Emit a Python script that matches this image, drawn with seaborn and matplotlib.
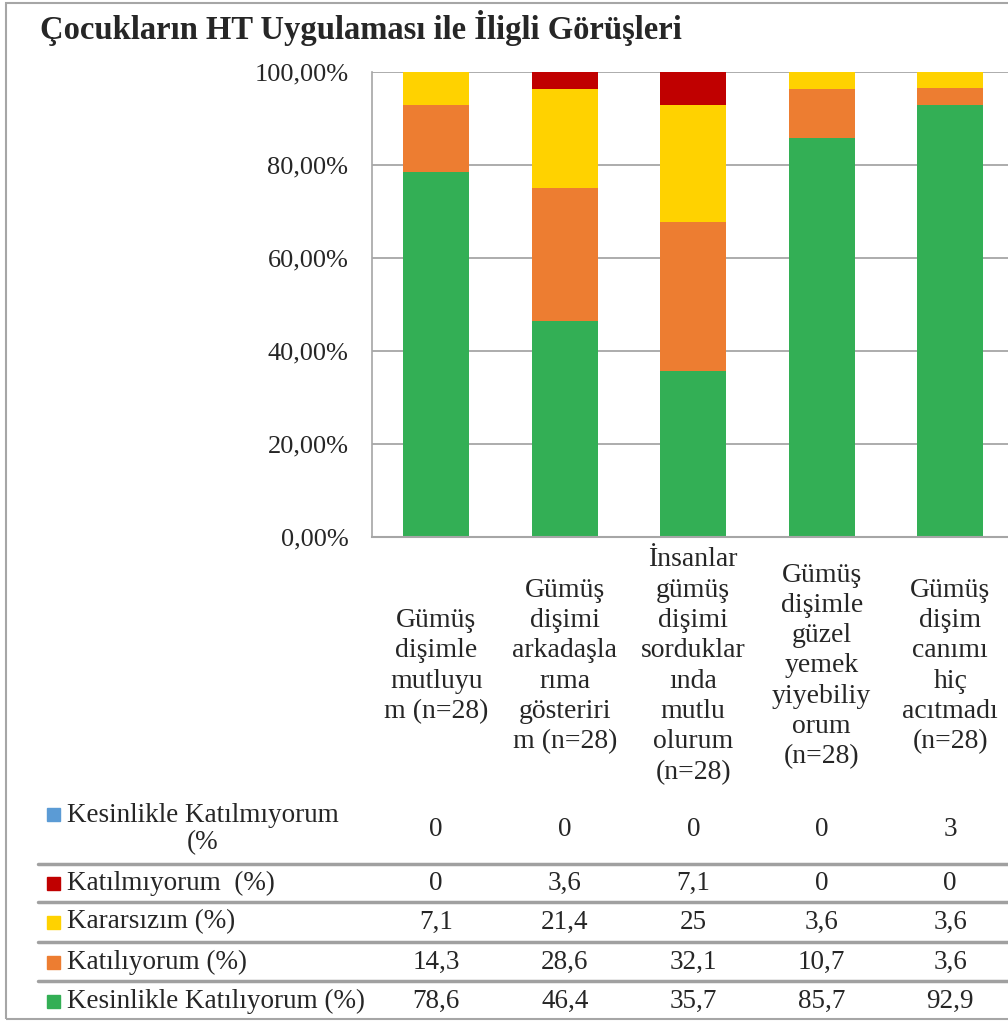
import numpy as np
import pandas as pd
import matplotlib
matplotlib.use("Agg")
import matplotlib.pyplot as plt
import matplotlib.transforms as mtransforms
from matplotlib.patches import Rectangle
from matplotlib.lines import Line2D
import seaborn as sns

# DATA
kategoriler = [
    "Gümüş\ndişimle\nmutluyu\nm (n=28)",
    "Gümüş\ndişimi\narkadaşla\nrıma\ngösteriri\nm (n=28)",
    "İnsanlar\ngümüş\ndişimi\nsorduklar\nında\nmutlu\nolurum\n(n=28)",
    "Gümüş\ndişimle\ngüzel\nyemek\nyiyebiliy\norum\n(n=28)",
    "Gümüş\ndişim\ncanımı\nhiç\nacıtmadı\n(n=28)",
]
seri_adlari = [
    "Kesinlikle Katılmıyorum\n(%",
    "Katılmıyorum  (%)",
    "Kararsızım (%)",
    "Katılıyorum (%)",
    "Kesinlikle Katılıyorum (%)",
]
kesinlikle_katilmiyorum = [0, 0, 0, 0, 3]
katilmiyorum = [0, 3.6, 7.1, 0, 0]
kararsizim = [7.1, 21.4, 25, 3.6, 3.6]
katiliyorum = [14.3, 28.6, 32.1, 10.7, 3.6]
kesinlikle_katiliyorum = [78.6, 46.4, 35.7, 85.7, 92.9]
tablo_metin = [
    ["0", "0", "0", "0", "3"],
    ["0", "3,6", "7,1", "0", "0"],
    ["7,1", "21,4", "25", "3,6", "3,6"],
    ["14,3", "28,6", "32,1", "10,7", "3,6"],
    ["78,6", "46,4", "35,7", "85,7", "92,9"],
]
renkler = ["#5B9BD5", "#C00000", "#FFD200", "#ED7D31", "#33AF55"]

W, H = 1008, 1022
fig = plt.figure(figsize=(W / 100, H / 100), dpi=100)
sns.set_style("white")
plt.rcParams["font.family"] = ["Liberation Serif", "DejaVu Serif"]

ax = fig.add_axes([372 / W, 485 / H, 642.5 / W, 465 / H])

# stacked bars: draw cumulative heights, tallest first (green at bottom)
seriler = [kesinlikle_katiliyorum, katiliyorum, kararsizim, katilmiyorum, kesinlikle_katilmiyorum]
seri_renk = renkler[::-1]
kumulatif = np.cumsum(np.array(seriler), axis=0)
df = pd.DataFrame({"x": list(range(5))})
for i in range(len(seriler) - 1, -1, -1):
    df["y"] = kumulatif[i]
    sns.barplot(data=df, x="x", y="y", color=seri_renk[i], width=0.515,
                saturation=1, ax=ax, zorder=2, native_scale=True, linewidth=0)

ax.set_xlim(-0.5, 4.5)
ax.set_ylim(0, 100)
ax.set_yticks([0, 20, 40, 60, 80, 100])
ax.set_yticklabels([f"{v:.2f}%".replace(".", ",") for v in [0, 20, 40, 60, 80, 100]],
                   fontsize=19)
ax.tick_params(axis="y", length=0, pad=17)
ax.set_xticks([])
ax.set_xlabel("")
ax.set_ylabel("")
ax.yaxis.grid(True, color="#A6A6A6", linewidth=1.3, zorder=0)
ax.set_axisbelow(True)
for s in ["top", "right"]:
    ax.spines[s].set_visible(False)
ax.spines["left"].set_color("#A6A6A6")
ax.spines["bottom"].set_color("#A6A6A6")
ax.spines["left"].set_linewidth(1.2)
ax.spines["bottom"].set_linewidth(1.5)

tr = mtransforms.blended_transform_factory(ax.transData, fig.transFigure)

# category labels
for i, k in enumerate(kategoriler):
    ax.text(i, 1 - 666 / H, k, transform=tr, ha="center", va="center",
            multialignment="center", fontsize=20, linespacing=1.28)

# data table
satir_y = [829, 883, 922, 962, 1001]
cizgi_y = [864, 902, 942, 981]
for r, ad in enumerate(seri_adlari):
    yf = 1 - satir_y[r] / H
    if r == 0:
        fig.text(67 / W, yf, ad, ha="left", va="center", multialignment="center",
                 fontsize=19.5, linespacing=1.15)
        key_y = 1 - 814 / H
    else:
        fig.text(67 / W, yf, ad, ha="left", va="center", fontsize=19.5)
        key_y = yf
    fig.patches.append(Rectangle((47 / W, key_y - 6.5 / H), 13 / W, 13 / H,
                                 transform=fig.transFigure, color=renkler[r]))
    for i, t in enumerate(tablo_metin[r]):
        ax.text(i, yf, t, transform=tr, ha="center", va="center", fontsize=19.5)

for y in cizgi_y:
    fig.lines.append(Line2D([38 / W, 1], [1 - y / H, 1 - y / H], transform=fig.transFigure,
                            color="#A0A0A0", linewidth=2.5))

# title and frame
fig.text(40 / W, 1 - 28 / H, "Çocukların HT Uygulaması ile İligli Görüşleri",
         ha="left", va="center", fontsize=23.5, fontweight="bold")
fig.patches.append(Rectangle((6 / W, 3 / H), 1.2, 1 - 6 / H, transform=fig.transFigure,
                             fill=False, edgecolor="#A6A6A6", linewidth=1.5))

fig.savefig("out.png", dpi=100)
